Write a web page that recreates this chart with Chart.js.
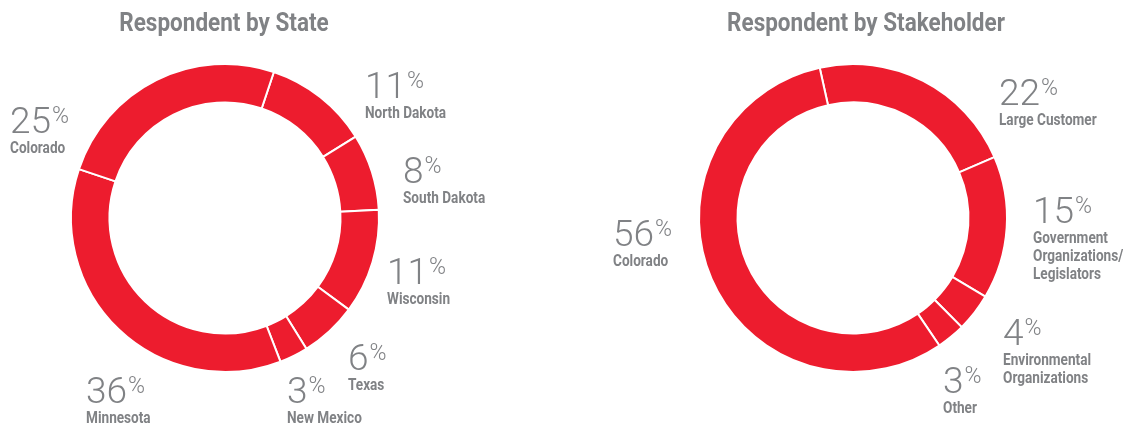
<!DOCTYPE html>
<html>
<head>
<meta charset="utf-8">
<script src="https://cdn.jsdelivr.net/npm/chart.js@4.4.1/dist/chart.umd.min.js"></script>
<style>
  html, body { margin: 0; padding: 0; background: #fff; }
  body { width: 1123px; height: 425px; position: relative; overflow: hidden; }
  canvas { position: absolute; top: 0; }
  #stateChart { left: 0; }
  #stakeChart { left: 560px; }
</style>
</head>
<body>
<canvas id="stateChart" width="560" height="425"></canvas>
<canvas id="stakeChart" width="563" height="425"></canvas>
<script>
const stateLabels = ["North Dakota", "South Dakota", "Wisconsin", "Texas", "New Mexico", "Minnesota", "Colorado"];
const stateValues = [11, 8, 11, 6, 3, 36, 25];

const stakeLabels = [["Large Customer"], ["Government", "Organizations/", "Legislators"], ["Environmental", "Organizations"], ["Other"], ["Colorado"]];
const stakeValues = [22, 15, 4, 3, 56];

// callout anchors (top-left of the big number), relative to the ring centre
const stateCallouts = [[140, -146], [178, -61], [162, 40], [123, 126], [62, 159], [-139, 159], [-215, -111]];
const stakeCallouts = [[146, -139], [180, -21], [150, 101], [90, 149], [-240, 2]];

const RED = "#ED1C2E";
const GREY = "#808285";

// no condensed face installed, so squeeze Roboto Bold sideways
function narrowText(ctx, text, x, y, sx) {
  ctx.save();
  ctx.translate(x, y);
  ctx.scale(sx, 1);
  ctx.fillText(text, 0, 0);
  ctx.restore();
}

// draws the title and the "NN% name" callouts beside each slice
const calloutPlugin = {
  id: "callouts",
  afterDraw(chart, args, opts) {
    const ctx = chart.ctx;
    const meta = chart.getDatasetMeta(0);
    const values = chart.data.datasets[0].data;
    const names = chart.data.labels;
    ctx.save();
    ctx.fillStyle = GREY;
    ctx.textBaseline = "alphabetic";

    const cx = meta.data[0].x;
    ctx.font = "bold 26px Roboto";
    ctx.textAlign = "center";
    narrowText(ctx, opts.title, cx + opts.titleShift, 31, 0.865);

    ctx.textAlign = "left";
    meta.data.forEach((arc, i) => {
      const x = arc.x + opts.anchors[i][0];
      const y = arc.y + opts.anchors[i][1];
      ctx.font = "300 37px Roboto";
      const num = String(values[i]);
      ctx.fillText(num, x, y + 26);
      const w = ctx.measureText(num).width;
      ctx.font = "300 23px Roboto";
      ctx.fillText("%", x + w + 1, y + 16);
      ctx.font = "bold 16px Roboto";
      const lines = [].concat(names[i]);
      lines.forEach((line, k) => narrowText(ctx, line, x, y + 46 + k * 18, 0.85));
    });
    ctx.restore();
  }
};

function ringChart(id, labels, values, rotation, padding, title, titleShift, anchors) {
  return new Chart(document.getElementById(id), {
    type: "doughnut",
    data: {
      labels: labels,
      datasets: [{
        data: values,
        backgroundColor: RED,
        hoverBackgroundColor: RED,
        borderColor: "#ffffff",
        hoverBorderColor: "#ffffff",
        borderWidth: 2
      }]
    },
    options: {
      responsive: false,
      animation: false,
      devicePixelRatio: 1,
      cutout: "75%",
      rotation: rotation,
      layout: { padding: padding },
      plugins: {
        legend: { display: false },
        tooltip: { enabled: false },
        callouts: { title: title, titleShift: titleShift, anchors: anchors }
      }
    },
    plugins: [calloutPlugin]
  });
}

ringChart("stateChart", stateLabels, stateValues, 18.5,
  { left: 70, right: 180, top: 63, bottom: 52 },
  "Respondent by State", -1, stateCallouts);

ringChart("stakeChart", stakeLabels, stakeValues, -12.5,
  { left: 138, right: 115, top: 63, bottom: 52 },
  "Respondent by Stakeholder", 13, stakeCallouts);
</script>
</body>
</html>
